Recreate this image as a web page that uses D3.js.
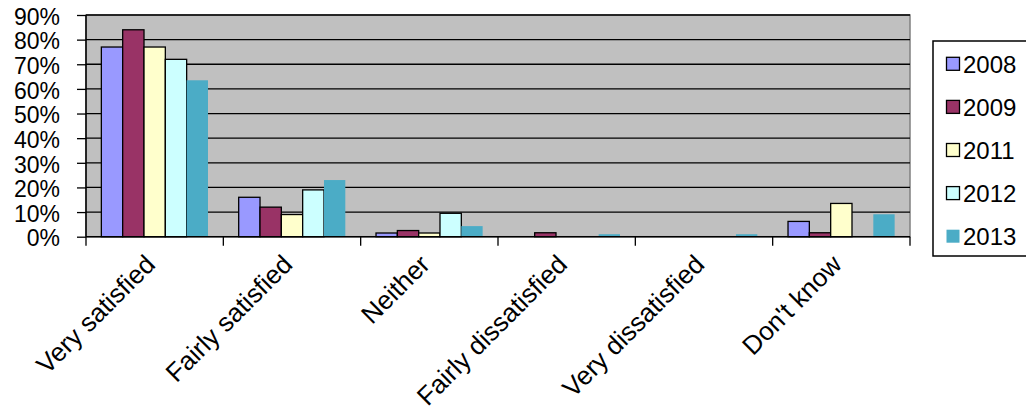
<!DOCTYPE html>
<html>
<head>
<meta charset="utf-8">
<script src="https://cdn.jsdelivr.net/npm/d3@7/dist/d3.min.js"></script>
<style>
  html, body { margin: 0; padding: 0; background: #fff; }
  svg { display: block; font-family: Arial, "Liberation Sans", sans-serif; }
</style>
</head>
<body>
<svg id="chart" width="1026" height="419"></svg>
<script>
// Satisfaction survey results by year
const categories = ["Very satisfied", "Fairly satisfied", "Neither", "Fairly dissatisfied", "Very dissatisfied", "Don't know"];
const years = ["2008", "2009", "2011", "2012", "2013"];
const values2008 = [0.77, 0.16, 0.015, 0, 0, 0.062];
const values2009 = [0.84, 0.12, 0.025, 0.016, 0, 0.016];
const values2011 = [0.77, 0.09, 0.015, 0, 0, 0.135];
const values2012 = [0.72, 0.19, 0.095, 0, 0, 0];
const values2013 = [0.635, 0.23, 0.043, 0.01, 0.01, 0.091];
const yTicks = [0, 0.1, 0.2, 0.3, 0.4, 0.5, 0.6, 0.7, 0.8, 0.9];
const colors = ["#9999FF", "#993366", "#FFFFCC", "#CCFFFF", "#4BACC6"];

const seriesValues = [values2008, values2009, values2011, values2012, values2013];
const table = categories.map((c, i) => ({
  category: c,
  bars: years.map((y, j) => ({ year: y, value: seriesValues[j][i], idx: j }))
}));

const svg = d3.select("#chart");
const plot = { left: 86, right: 910, top: 15, bottom: 236.7 };

const x0 = d3.scaleBand().domain(categories).range([plot.left, plot.right]).padding(0);
const x1 = d3.scaleBand().domain(years).range([0, x0.bandwidth()]).paddingInner(0).paddingOuter(0.72);
const y = d3.scaleLinear().domain([0, 0.9]).range([plot.bottom, plot.top]);
const color = d3.scaleOrdinal().domain(years).range(colors);

// plot background
svg.append("rect")
  .attr("x", plot.left).attr("y", plot.top)
  .attr("width", plot.right - plot.left).attr("height", plot.bottom - plot.top)
  .attr("fill", "#C0C0C0").attr("stroke", "#808080").attr("stroke-width", 1.5);

// horizontal gridlines
svg.append("g").selectAll("line").data(yTicks.filter(t => t > 0)).join("line")
  .attr("x1", plot.left).attr("x2", plot.right)
  .attr("y1", d => y(d)).attr("y2", d => y(d))
  .attr("stroke", "#000").attr("stroke-width", 1.3);

// bars
const groups = svg.append("g").selectAll("g").data(table).join("g")
  .attr("transform", d => `translate(${x0(d.category)},0)`);
groups.selectAll("rect").data(d => d.bars.filter(b => b.value > 0)).join("rect")
  .attr("x", d => x1(d.year))
  .attr("y", d => y(d.value))
  .attr("width", x1.bandwidth())
  .attr("height", d => y(0) - y(d.value))
  .attr("fill", d => color(d.year))
  .attr("stroke", d => d.idx < 4 ? "#000" : "none")
  .attr("stroke-width", 1.3);

// y axis
const yAxis = d3.axisLeft(y).tickValues(yTicks).tickFormat(d3.format(".0%")).tickSize(9).tickPadding(17);
const gy = svg.append("g").attr("transform", `translate(${plot.left},0)`).call(yAxis);
gy.select(".domain").attr("stroke", "#000").attr("stroke-width", 1.5).attr("d", `M0,${plot.top}V${plot.bottom}`);
gy.selectAll(".tick line").attr("stroke", "#000").attr("stroke-width", 1.3);
gy.selectAll(".tick text").attr("font-size", 23).attr("fill", "#000")
  .attr("font-family", "Arial, 'Liberation Sans', sans-serif").attr("dy", "0.4em");

// x axis with ticks at category boundaries
const gx = svg.append("g");
gx.append("line").attr("x1", plot.left).attr("x2", plot.right)
  .attr("y1", plot.bottom).attr("y2", plot.bottom)
  .attr("stroke", "#000").attr("stroke-width", 1.5);
const bounds = categories.map(c => x0(c)).concat([plot.right]);
gx.selectAll("line.tk").data(bounds).join("line").attr("class", "tk")
  .attr("x1", d => d).attr("x2", d => d)
  .attr("y1", plot.bottom).attr("y2", plot.bottom + 9)
  .attr("stroke", "#000").attr("stroke-width", 1.3);
gx.selectAll("text").data(categories).join("text")
  .attr("transform", d => `translate(${x0(d) + x0.bandwidth() / 2 + 2},266) rotate(-45)`)
  .attr("text-anchor", "end")
  .attr("font-size", 26)
  .attr("fill", "#000")
  .text(d => d);

// legend
const legend = svg.append("g");
legend.append("rect")
  .attr("x", 933).attr("y", 41).attr("width", 110).attr("height", 215)
  .attr("fill", "#fff").attr("stroke", "#000").attr("stroke-width", 1.5);
const items = legend.selectAll("g.item").data(years).join("g").attr("class", "item")
  .attr("transform", (d, i) => `translate(946,${64.3 + i * 43.1})`);
items.append("rect")
  .attr("x", 0.5).attr("y", -7).attr("width", 13).attr("height", 13)
  .attr("fill", d => color(d))
  .attr("stroke", (d, i) => i < 4 ? "#000" : "none")
  .attr("stroke-width", 1.3);
items.append("text")
  .attr("x", 17).attr("y", 0).attr("dy", "0.36em")
  .attr("font-size", 24).attr("fill", "#000")
  .text(d => d);
</script>
</body>
</html>
